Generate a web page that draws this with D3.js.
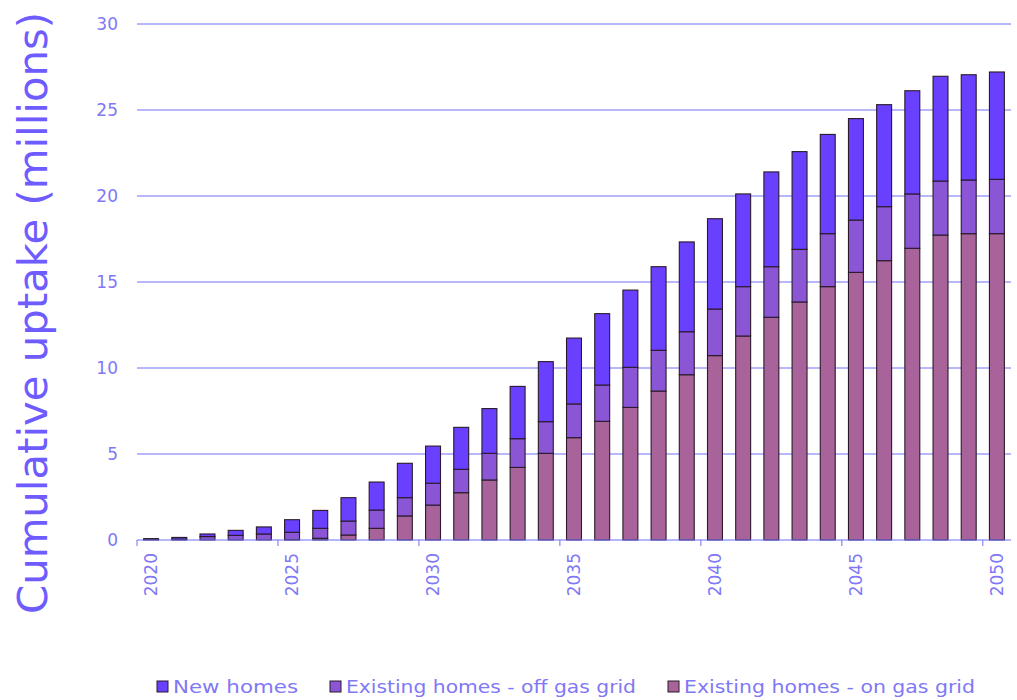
<!DOCTYPE html>
<html><head><meta charset="utf-8">
<script src="https://cdn.jsdelivr.net/npm/d3@7"></script>
<style>body{margin:0;background:#fff;} text{font-family:"DejaVu Sans","Noto Sans",sans-serif;}</style>
</head><body><svg id="c" width="1017" height="700"></svg>
<script>
const years = d3.range(2020, 2051);
const onGas = [0,0,0,0,0,0.02,0.1,0.29,0.68,1.4,2.03,2.75,3.49,4.22,5.04,5.95,6.9,7.71,8.66,9.61,10.72,11.86,12.95,13.84,14.73,15.56,16.24,16.96,17.73,17.81,17.81];
const offGas = [0.03,0.05,0.2,0.27,0.35,0.43,0.58,0.81,1.06,1.06,1.27,1.36,1.55,1.67,1.84,1.96,2.11,2.33,2.37,2.5,2.71,2.87,2.94,3.06,3.08,3.04,3.14,3.16,3.14,3.12,3.16];
const newHomes = [0.05,0.1,0.15,0.29,0.41,0.73,1.04,1.36,1.63,2.0,2.16,2.44,2.6,3.04,3.49,3.83,4.15,4.49,4.86,5.22,5.25,5.39,5.51,5.68,5.77,5.9,5.93,6.0,6.09,6.12,6.24];
const seriesNames = ["Existing homes - on gas grid","Existing homes - off gas grid","New homes"];
const seriesColors = ["#a8649a","#8a56d6","#6a40ff"];
const yTicks = [0,5,10,15,20,25,30];
const xTickYears = [2020,2025,2030,2035,2040,2045,2050];
const legendOrder = ["New homes","Existing homes - off gas grid","Existing homes - on gas grid"];

const svg = d3.select("#c");
const L = 137, R = 1011, T = 24, B = 540;
const txt = "#8078f5";
const x = d3.scaleBand().domain(years).range([L, R]).paddingInner(0.47).paddingOuter(0.235);
const xb = d3.scaleBand().domain(years).range([L, R]);
const y = d3.scaleLinear().domain([0, 30]).range([B, T]);

// gridlines
svg.append("g").selectAll("line").data(yTicks.filter(d=>d>0)).join("line")
  .attr("x1", L).attr("x2", R).attr("y1", d=>y(d)).attr("y2", d=>y(d))
  .attr("stroke", "#6f6ff5").attr("stroke-width", 1);

// y axis labels
const yAxis = d3.axisLeft(y).tickValues(yTicks).tickSize(0).tickPadding(19);
const gy = svg.append("g").attr("transform", `translate(${L},0)`).call(yAxis);
gy.select(".domain").remove();
gy.selectAll("text").attr("fill", txt).style("font-size", "17px").style("font-family", '"DejaVu Sans"');

// stacked data
const rows = years.map((yr,i)=>({year:yr, s0:onGas[i], s1:offGas[i], s2:newHomes[i]}));
const stack = d3.stack().keys(["s0","s1","s2"])(rows);
svg.append("g").selectAll("g").data(stack).join("g")
  .attr("fill", (d,i)=>seriesColors[i])
  .selectAll("rect").data(d=>d).join("rect")
  .attr("x", d=>x(d.data.year)).attr("width", x.bandwidth())
  .attr("y", d=>y(d[1])).attr("height", d=>Math.max(0, y(d[0])-y(d[1])))
  .attr("stroke", "#2a1a2a").attr("stroke-width", 1.1);

// x axis
const gx = svg.append("g").attr("transform", `translate(0,${B})`);
gx.append("line").attr("x1", L).attr("x2", R).attr("stroke", "#6f6ff5").attr("stroke-width", 1.2);
gx.selectAll("line.tk").data(xTickYears).join("line").attr("class","tk")
  .attr("x1", d=>xb(d)).attr("x2", d=>xb(d)).attr("y1", 0).attr("y2", 6)
  .attr("stroke", "#6f6ff5");
gx.selectAll("text").data(xTickYears).join("text")
  .attr("transform", d=>`translate(${xb(d)+xb.bandwidth()/2+6},13) rotate(-90)`)
  .attr("text-anchor", "end").attr("fill", txt).style("font-size", "17px")
  .text(d=>d);

// y title
svg.append("text").attr("transform", "translate(47,313) rotate(-90)")
  .attr("text-anchor", "middle").attr("fill", "#6f5cff").style("font-size", "40px")
  .attr("textLength", 602).attr("lengthAdjust", "spacingAndGlyphs")
  .text("Cumulative uptake (millions)");

// legend
const legX = [157, 330, 668];
const legW = [125, 290, 291];
const lg = svg.append("g").selectAll("g").data(legendOrder).join("g")
  .attr("transform", (d,i)=>`translate(${legX[i]},681)`);
lg.append("rect").attr("width", 11).attr("height", 11)
  .attr("fill", d=>seriesColors[seriesNames.indexOf(d)]).attr("stroke", "#2a1a2a").attr("stroke-width", 1);
lg.append("text").attr("x", 16).attr("y", 12).attr("fill", txt).style("font-size", "18px")
  .attr("textLength", (d,i)=>legW[i]).attr("lengthAdjust", "spacingAndGlyphs").text(d=>d);
</script></body></html>
